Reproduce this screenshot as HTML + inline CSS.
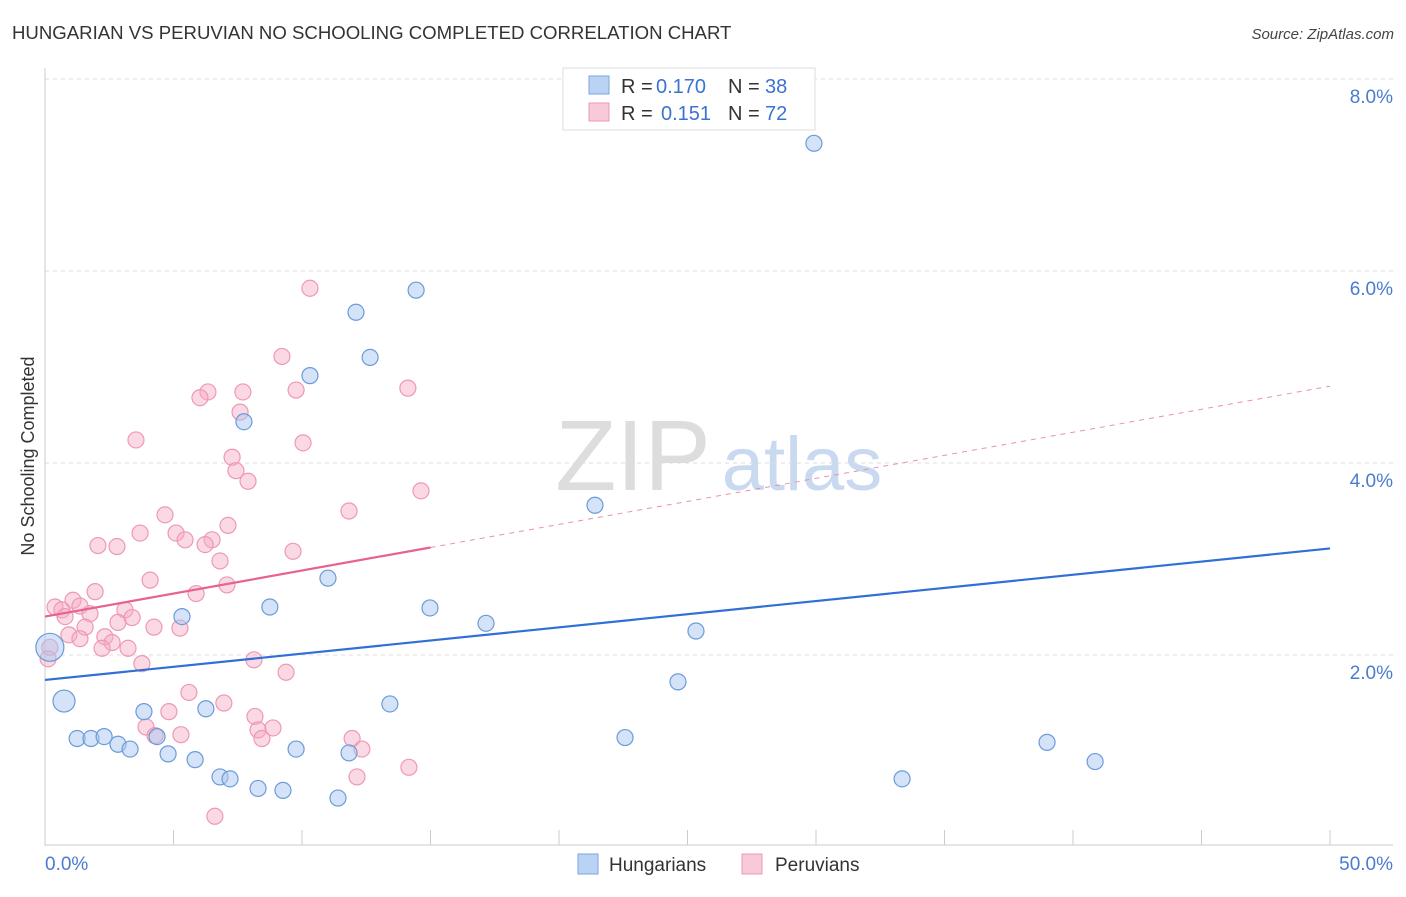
<!DOCTYPE html>
<html><head><meta charset="utf-8"><style>
body{margin:0;background:#fff;font-family:"Liberation Sans",sans-serif}
svg text{font-family:"Liberation Sans",sans-serif}
</style></head><body>
<svg id="chart" width="1406" height="892" viewBox="0 0 1406 892" xmlns="http://www.w3.org/2000/svg">
<text x="12" y="39" font-size="18.6" fill="#333">HUNGARIAN VS PERUVIAN NO SCHOOLING COMPLETED CORRELATION CHART</text>
<text x="1394" y="39" font-size="15" fill="#444" font-style="italic" text-anchor="end">Source: ZipAtlas.com</text>
<g>
<text x="633" y="490" font-size="100" fill="#ddd" font-family="Liberation Serif,serif" text-anchor="middle">ZIP</text>
<text x="802" y="490" font-size="76" fill="#c9d9f0" text-anchor="middle">atlas</text>
</g>
<g id="grid"></g>
<g id="axes"></g>
<g id="marks"></g>
<text transform="translate(34,456) rotate(-90)" font-size="18" fill="#333" text-anchor="middle">No Schooling Completed</text>
<g>
<rect x="563" y="68" width="252" height="62" fill="#fff" stroke="#ddd"/>
<rect x="589" y="76" width="20" height="18" fill="#b9d3f5" stroke="#7aa6e0"/>
<rect x="589" y="103" width="20" height="18" fill="#f9c9d8" stroke="#ee98b5"/>
<text x="621" y="93" font-size="20" fill="#333">R =</text>
<text x="656" y="93" font-size="20" fill="#3b73d1">0.170</text>
<text x="728" y="93" font-size="20" fill="#333">N =</text>
<text x="765" y="93" font-size="20" fill="#3b73d1">38</text>
<text x="621" y="120" font-size="20" fill="#333">R =</text>
<text x="661" y="120" font-size="20" fill="#3b73d1">0.151</text>
<text x="728" y="120" font-size="20" fill="#333">N =</text>
<text x="765" y="120" font-size="20" fill="#3b73d1">72</text>
</g>
<g>
<rect x="578" y="854" width="20" height="20" fill="#b9d3f5" stroke="#7aa6e0"/>
<text x="609" y="871" font-size="19" fill="#333">Hungarians</text>
<rect x="742" y="854" width="20" height="20" fill="#f9c9d8" stroke="#ee98b5"/>
<text x="775" y="871" font-size="19" fill="#333">Peruvians</text>
</g>
</svg>
<script>
const yTicks=[2,4,6,8];
const xTickLabels=["0.0%","50.0%"];
const blueX=[29.92,14.44,12.10,12.65,10.31,7.74,21.40,11.01,8.75,14.98,5.33,17.16,25.33,24.63,0.74,6.26,13.42,3.85,1.25,1.79,2.30,2.84,3.31,4.36,4.79,5.84,9.77,11.83,22.57,38.99,40.86,6.81,7.20,8.29,9.26,11.40,33.35,0.19];
const blueY=[7.33,5.80,5.57,5.10,4.91,4.43,3.56,2.80,2.50,2.49,2.40,2.33,2.25,1.72,1.52,1.44,1.49,1.41,1.13,1.13,1.15,1.07,1.02,1.15,0.97,0.91,1.02,0.98,1.14,1.09,0.89,0.73,0.71,0.61,0.59,0.51,0.71,2.08];
const pinkX=[10.31,9.22,14.12,9.77,7.70,6.34,6.03,7.59,3.54,10.04,7.28,7.43,7.90,14.63,11.83,4.67,7.12,3.70,5.10,2.06,2.80,5.45,6.50,6.23,9.65,6.81,4.09,7.08,5.88,1.95,1.09,0.39,0.66,1.36,1.75,0.78,3.11,3.39,2.84,1.56,4.24,5.25,0.93,2.33,1.36,2.61,2.22,3.23,0.19,0.12,3.77,8.13,9.38,5.60,6.96,4.82,8.17,3.93,5.29,4.28,8.87,8.29,8.44,11.95,12.33,12.14,14.16,6.61];
const pinkY=[5.82,5.11,4.78,4.76,4.74,4.74,4.68,4.53,4.24,4.21,4.06,3.92,3.81,3.71,3.50,3.46,3.35,3.27,3.27,3.14,3.13,3.20,3.20,3.15,3.08,2.98,2.78,2.73,2.64,2.66,2.57,2.50,2.47,2.51,2.43,2.40,2.47,2.39,2.34,2.29,2.29,2.28,2.21,2.19,2.17,2.13,2.07,2.07,2.08,1.96,1.91,1.95,1.82,1.61,1.50,1.41,1.36,1.25,1.17,1.16,1.24,1.22,1.13,1.13,1.02,0.73,0.83,0.32];
const blueTrend=[1.74,3.11];
const pinkTrend=[2.40,4.80];
const NS="http://www.w3.org/2000/svg";
const X=v=>45+v*25.7, Y=v=>847-v*96;
function mk(p,t,a){const e=document.createElementNS(NS,t);for(const k in a)e.setAttribute(k,a[k]);p.appendChild(e);return e;}
const grid=document.getElementById('grid'),axes=document.getElementById('axes'),marks=document.getElementById('marks');
yTicks.forEach(t=>{
 const l=mk(grid,'line',{x1:45,x2:1393,y1:Y(t),y2:Y(t),stroke:'#ddd','stroke-dasharray':'4,4'});
 
 
 const tx=mk(axes,'text',{x:1393,y:Y(t)+24,'font-size':19,fill:'#4a7bd0','text-anchor':'end'});
 tx.textContent=t.toFixed(1)+'%';
 
 
});
mk(axes,'line',{x1:45,x2:45,y1:68,y2:846,stroke:'#ccc'});
mk(axes,'line',{x1:45,x2:1393,y1:845,y2:845,stroke:'#ccc'});
for(let i=0;i<=10;i++){const l=mk(axes,'line',{x1:X(i*5),x2:X(i*5),y1:830,y2:845,stroke:'#ccc'});
 
 }
const xl0=mk(axes,'text',{x:45,y:870,'font-size':19,fill:'#4a7bd0'});xl0.textContent=xTickLabels[0];


const xl1=mk(axes,'text',{x:1393,y:870,'font-size':19,fill:'#4a7bd0','text-anchor':'end'});xl1.textContent=xTickLabels[1];


const big={0.19:14,0.74:11};
pinkX.forEach((x,i)=>{const c=mk(marks,'circle',{cx:X(x),cy:Y(pinkY[i]),r:8,fill:'rgba(246,170,196,0.45)',stroke:'#ee98b5','stroke-width':1.2});
 
 });
blueX.forEach((x,i)=>{const c=mk(marks,'circle',{cx:X(x),cy:Y(blueY[i]),r:big[x]||8,fill:'rgba(170,200,240,0.5)',stroke:'#6b9bd9','stroke-width':1.2});
 
 });
const bt=mk(marks,'line',{x1:X(0),y1:Y(blueTrend[0]),x2:X(50),y2:Y(blueTrend[1]),stroke:'#2f6fd6','stroke-width':2.2});


const pm=v=>pinkTrend[0]+(pinkTrend[1]-pinkTrend[0])*v/50;
const ps=mk(marks,'line',{x1:X(0),y1:Y(pm(0)),x2:X(15),y2:Y(pm(15)),stroke:'#e8628f','stroke-width':2.2});


const pd=mk(marks,'line',{x1:X(15),y1:Y(pm(15)),x2:X(50),y2:Y(pm(50)),stroke:'#eb8fb0','stroke-width':1,'stroke-dasharray':'5,5'});


</script>
</body></html>
